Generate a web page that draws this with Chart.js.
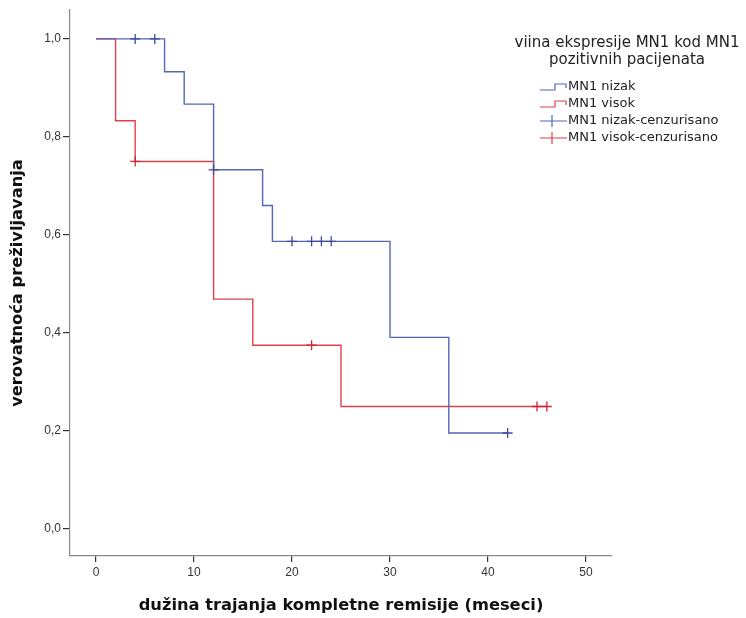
<!DOCTYPE html>
<html>
<head>
<meta charset="utf-8">
<script src="https://cdn.jsdelivr.net/npm/chart.js@4"></script>
<style>
  html, body { margin: 0; padding: 0; background: #fff; }
  #wrap { width: 746px; height: 618px; }
</style>
</head>
<body>
<div id="wrap"><canvas id="km"></canvas></div>
<script>
// vremena (meseci) i verovatnoce prezivljavanja po grupama
const nizakVreme = [0, 7, 9, 12, 17, 18, 30, 36, 42];
const nizakPrez  = [1.0, 0.933, 0.867, 0.733, 0.66, 0.587, 0.391, 0.196, 0.196];
const visokVreme = [0, 2, 4, 12, 16, 25, 46];
const visokPrez  = [1.0, 0.833, 0.75, 0.469, 0.375, 0.25, 0.25];

// cenzurisani slucajevi
const nizakCenzVreme = [4, 6, 12, 20, 22, 23, 24, 42];
const nizakCenzPrez  = [1.0, 1.0, 0.733, 0.587, 0.587, 0.587, 0.587, 0.196];
const visokCenzVreme = [4, 22, 45, 46];
const visokCenzPrez  = [0.75, 0.375, 0.25, 0.25];

const xTicks = [0, 10, 20, 30, 40, 50];
const yTicks = [0, 0.2, 0.4, 0.6, 0.8, 1.0];

const legendaNaslov = ['viina ekspresije MN1 kod MN1', 'pozitivnih pacijenata'];
const legendaStavke = ['MN1 nizak', 'MN1 visok', 'MN1 nizak-cenzurisano', 'MN1 visok-cenzurisano'];

const plava = '#5566b4';
const crvena = '#e0404a';

const toPts = (xs, ys) => xs.map((x, i) => ({ x: x, y: ys[i] }));

// legenda sa stepenastim i krstic simbolima
const legendaPlugin = {
  id: 'legenda',
  afterDraw(chart) {
    const ctx = chart.ctx;
    ctx.save();
    ctx.fillStyle = '#222';
    ctx.font = '15px "DejaVu Sans", sans-serif';
    ctx.textAlign = 'center';
    ctx.textBaseline = 'middle';
    ctx.fillText(legendaNaslov[0], 627, 43);
    ctx.fillText(legendaNaslov[1], 627, 60);

    ctx.font = '13px "DejaVu Sans", sans-serif';
    ctx.textAlign = 'left';
    const boje = [plava, crvena, plava, crvena];
    legendaStavke.forEach((txt, i) => {
      const y = 87 + i * 17;
      ctx.strokeStyle = boje[i];
      ctx.lineWidth = 1.2;
      ctx.beginPath();
      if (i < 2) {
        ctx.moveTo(540, y + 3);
        ctx.lineTo(555, y + 3);
        ctx.lineTo(555, y - 3);
        ctx.lineTo(566, y - 3);
        ctx.lineTo(566, y + 1);
      } else {
        ctx.moveTo(540, y);
        ctx.lineTo(567, y);
        ctx.moveTo(552, y - 6);
        ctx.lineTo(552, y + 6);
      }
      ctx.stroke();
      ctx.fillStyle = '#222';
      ctx.fillText(txt, 568, y);
    });
    ctx.restore();
  }
};

new Chart(document.getElementById('km'), {
  type: 'scatter',
  data: {
    datasets: [
      {
        label: 'MN1 nizak-cenzurisano',
        data: toPts(nizakCenzVreme, nizakCenzPrez),
        pointStyle: 'cross',
        radius: 5,
        borderColor: '#3b4a99',
        borderWidth: 1.3,
        showLine: false
      },
      {
        label: 'MN1 visok-cenzurisano',
        data: toPts(visokCenzVreme, visokCenzPrez),
        pointStyle: 'cross',
        radius: 5,
        borderColor: '#c8283a',
        borderWidth: 1.3,
        showLine: false
      },
      {
        label: 'MN1 nizak',
        data: toPts(nizakVreme, nizakPrez),
        showLine: true,
        stepped: true,
        borderColor: plava,
        borderWidth: 1.4,
        pointRadius: 0
      },
      {
        label: 'MN1 visok',
        data: toPts(visokVreme, visokPrez),
        showLine: true,
        stepped: true,
        borderColor: crvena,
        borderWidth: 1.4,
        pointRadius: 0
      }
    ]
  },
  options: {
    responsive: true,
    maintainAspectRatio: false,
    animation: false,
    layout: { padding: { top: 10, right: 134, left: 0, bottom: 0 } },
    plugins: {
      legend: { display: false },
      tooltip: { enabled: false }
    },
    scales: {
      x: {
        type: 'linear',
        min: -2.65,
        max: 52.65,
        afterBuildTicks: s => { s.ticks = xTicks.map(v => ({ value: v })); },
        afterFit: s => { s.height = 62; },
        grid: { drawOnChartArea: false, tickLength: 6, tickColor: '#333', lineWidth: 1.2 },
        border: { color: '#888', width: 1.2 },
        ticks: {
          padding: 3,
          color: '#333',
          font: { size: 12, family: '"Liberation Sans", Arial, sans-serif' }
        },
        title: {
          display: true,
          text: 'dužina trajanja kompletne remisije (meseci)',
          color: '#111',
          font: { size: 16.3, weight: 'bold', family: '"DejaVu Sans", sans-serif' },
          padding: { top: 0, bottom: 2 }
        }
      },
      y: {
        type: 'linear',
        min: -0.055,
        max: 1.059,
        afterBuildTicks: s => { s.ticks = yTicks.map(v => ({ value: v })); },
        afterFit: s => { s.width = 70; },
        grid: { drawOnChartArea: false, tickLength: 7, tickColor: '#333', lineWidth: 1.2 },
        border: { color: '#888', width: 1.2 },
        ticks: {
          padding: 2,
          color: '#333',
          font: { size: 12, family: '"Liberation Sans", Arial, sans-serif' },
          callback: v => v.toFixed(1).replace('.', ',')
        },
        title: {
          display: true,
          text: 'verovatnoća preživljavanja',
          color: '#111',
          font: { size: 16.3, weight: 'bold', family: '"DejaVu Sans", sans-serif' },
          padding: { top: 8, bottom: 0 }
        }
      }
    }
  },
  plugins: [legendaPlugin]
});
</script>
</body>
</html>
